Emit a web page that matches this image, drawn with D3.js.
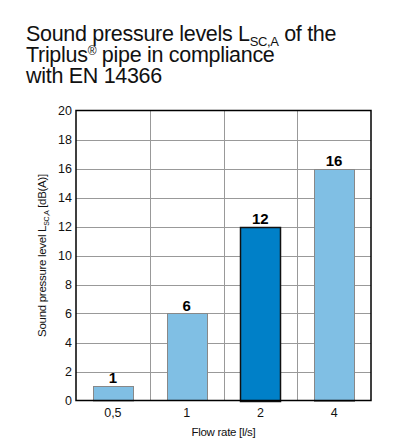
<!DOCTYPE html>
<html>
<head>
  <script src="https://d3js.org/d3.v7.min.js"></script>
  <style>
    body { margin: 0; background: #fff; }
    text { font-family: "Liberation Sans", Arial, sans-serif; }
    .grid line { stroke: #999; stroke-width: 1; }
  </style>
</head>
<body>
<div id="chartArea"></div>
<script>
  var categories = ["0,5", "1", "2", "4"];
  var values = [1, 6, 12, 16];
  var highlight = [false, false, true, false];
  var yTicks = [0, 2, 4, 6, 8, 10, 12, 14, 16, 18, 20];

  var w = 397, h = 443;
  var plotLeft = 76, plotRight = 371, plotTop = 110.5, plotBottom = 400.5;

  var svg = d3.select("#chartArea").append("svg")
      .attr("width", w).attr("height", h);

  // title
  var title = svg.append("text").attr("x", 26).attr("y", 41)
      .style("font-size", "21.5px").style("letter-spacing", "-0.3px").attr("fill", "#111");
  title.append("tspan").text("Sound pressure levels L");
  title.append("tspan").text("SC,A").attr("dy", 5).style("font-size", "13px").style("letter-spacing", "-0.4px");
  title.append("tspan").text(" of the").attr("dy", -5);
  var t2 = svg.append("text").attr("x", 26).attr("y", 62)
      .style("font-size", "21.5px").style("letter-spacing", "-0.3px").attr("fill", "#111");
  t2.append("tspan").text("Triplus");
  t2.append("tspan").text("®").attr("dy", -7).style("font-size", "12px");
  t2.append("tspan").text(" pipe in compliance").attr("dy", 7);
  svg.append("text").attr("x", 26).attr("y", 83)
      .style("font-size", "21.5px").style("letter-spacing", "-0.3px").attr("fill", "#111")
      .text("with EN 14366");

  var xScale = d3.scaleBand().domain(categories).range([plotLeft, plotRight]).paddingInner(0).paddingOuter(0);
  var yScale = d3.scaleLinear().domain([0, 20]).range([plotBottom, plotTop]);

  // horizontal grid
  svg.append("g").attr("class", "grid")
    .selectAll("line").data(yTicks.slice(1, -1)).enter().append("line")
    .attr("x1", plotLeft).attr("x2", plotRight)
    .attr("y1", function(d) { return Math.round(yScale(d)) + 0.5; })
    .attr("y2", function(d) { return Math.round(yScale(d)) + 0.5; });
  // vertical grid
  svg.append("g").attr("class", "grid")
    .selectAll("line").data(categories.slice(1)).enter().append("line")
    .attr("x1", function(d) { return Math.round(xScale(d)) + 0.5; })
    .attr("x2", function(d) { return Math.round(xScale(d)) + 0.5; })
    .attr("y1", plotTop).attr("y2", plotBottom);

  // bars
  var bw = 40;
  svg.selectAll("rect.bar").data(values).enter().append("rect")
    .attr("class", "bar")
    .attr("x", function(d, i) { return Math.round(xScale(categories[i]) + xScale.bandwidth() / 2 - bw / 2) + 0.5; })
    .attr("y", function(d) { return Math.round(yScale(d)) + 0.5; })
    .attr("width", bw)
    .attr("height", function(d) { return yScale(0) - yScale(d); })
    .attr("fill", function(d, i) { return highlight[i] ? "#0080c8" : "#80bfe4"; })
    .attr("stroke", function(d, i) { return highlight[i] ? "#111" : "#888"; })
    .attr("stroke-width", function(d, i) { return highlight[i] ? 1.5 : 1; });

  // value labels
  svg.selectAll("text.val").data(values).enter().append("text")
    .attr("class", "val")
    .attr("x", function(d, i) { return xScale(categories[i]) + xScale.bandwidth() / 2; })
    .attr("y", function(d) { return yScale(d) - 3; })
    .attr("text-anchor", "middle")
    .style("font-size", "15px").style("font-weight", "bold")
    .text(function(d) { return d; });

  // frame
  svg.append("rect").attr("x", plotLeft).attr("y", plotTop)
    .attr("width", plotRight - plotLeft).attr("height", plotBottom - plotTop)
    .attr("fill", "none").attr("stroke", "#000").attr("stroke-width", 1.5);

  // y axis labels
  var yAxis = d3.axisLeft(yScale).tickValues(yTicks).tickSize(0).tickPadding(4);
  var gy = svg.append("g").attr("transform", "translate(" + plotLeft + ",0)").call(yAxis);
  gy.select(".domain").remove();
  gy.selectAll("text").style("font-size", "12.5px").style("font-family", "Liberation Sans, Arial, sans-serif").attr("fill", "#111");

  // x axis labels
  var xAxis = d3.axisBottom(xScale).tickSize(0).tickPadding(8);
  var gx = svg.append("g").attr("transform", "translate(0," + plotBottom + ")").call(xAxis);
  gx.select(".domain").remove();
  gx.selectAll("text").style("font-size", "12.5px").style("font-family", "Liberation Sans, Arial, sans-serif").attr("fill", "#111");

  svg.append("text").attr("x", (plotLeft + plotRight) / 2).attr("y", 436)
    .attr("text-anchor", "middle").style("font-size", "11.5px").style("letter-spacing", "-0.3px")
    .attr("fill", "#111").text("Flow rate [l/s]");

  // y title
  var yt = svg.append("text")
    .attr("transform", "translate(46," + (plotTop + plotBottom) / 2 + ") rotate(-90)")
    .attr("text-anchor", "middle").style("font-size", "11.5px").style("letter-spacing", "-0.3px")
    .attr("fill", "#111");
  yt.append("tspan").text("Sound pressure level L");
  yt.append("tspan").text("SC,A").attr("dy", 3).style("font-size", "7px");
  yt.append("tspan").text(" [dB(A)]").attr("dy", -3);
</script>
</body>
</html>
